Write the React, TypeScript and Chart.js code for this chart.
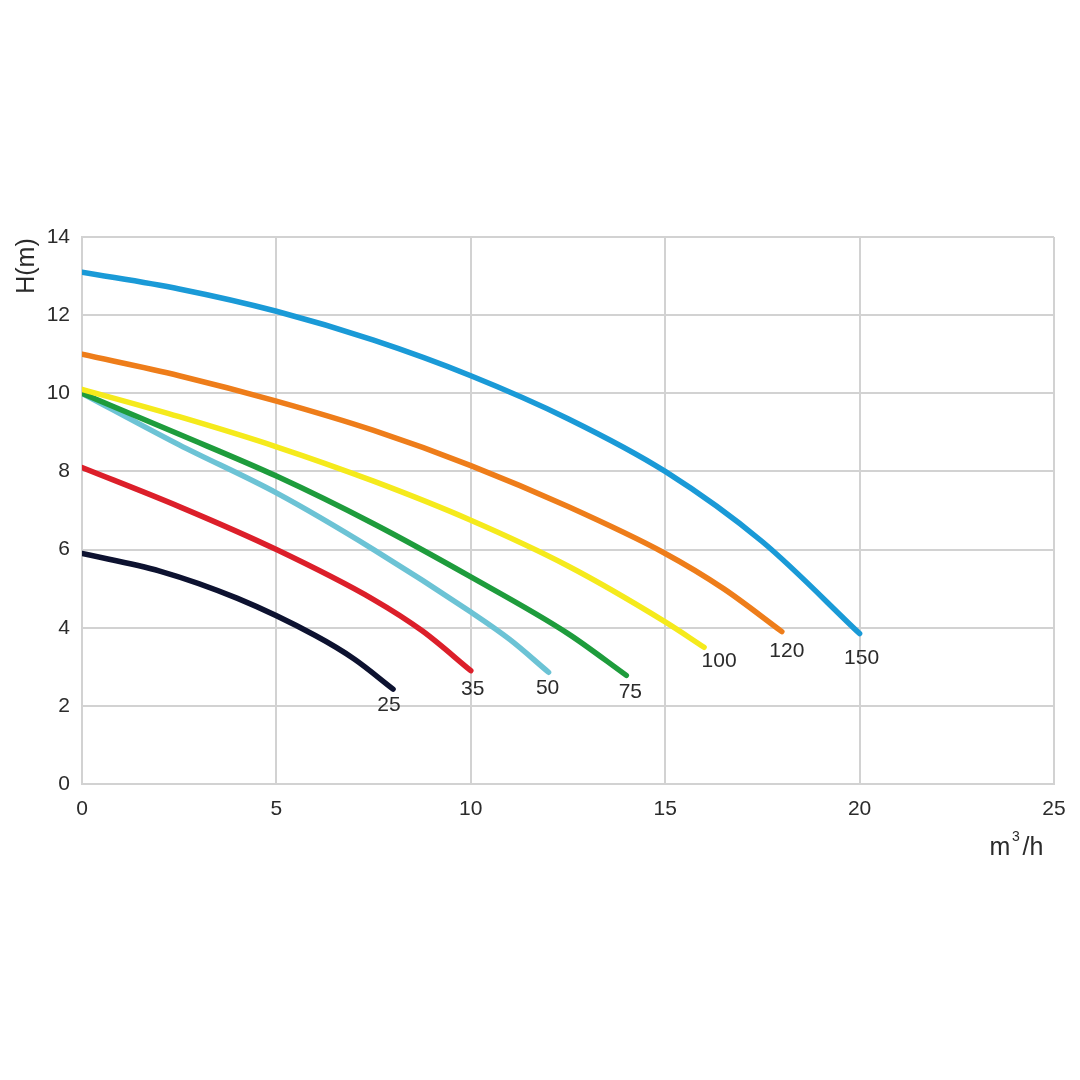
import React, { useEffect, useRef } from "react";
import { Chart, registerables } from "chart.js";

Chart.register(...registerables);

const seriesNames = ["150", "120", "100", "75", "50", "35", "25"];

const flow150 = [0, 2.5, 5, 7.5, 10, 12.5, 15, 17.5, 20];
const head150 = [13.1, 12.67, 12.1, 11.36, 10.45, 9.35, 8.0, 6.2, 3.85];

const flow120 = [0, 2.5, 5, 7.5, 10, 12.5, 15, 16.5, 18];
const head120 = [11.0, 10.45, 9.8, 9.05, 8.15, 7.1, 5.9, 5.0, 3.9];

const flow100 = [0, 2.5, 5, 7.5, 10, 12.5, 15, 16];
const head100 = [10.1, 9.4, 8.63, 7.75, 6.75, 5.58, 4.15, 3.5];

const flow75 = [0, 2.5, 5, 7.5, 10, 12.5, 14];
const head75 = [10.0, 8.95, 7.88, 6.66, 5.3, 3.85, 2.78];

const flow50 = [0, 2.5, 5, 7.5, 10, 11, 12];
const head50 = [10.0, 8.68, 7.45, 6.0, 4.4, 3.7, 2.86];

const flow35 = [0, 2.5, 5, 7.5, 8.75, 10];
const head35 = [8.1, 7.1, 6.0, 4.72, 3.92, 2.9];

const flow25 = [0, 2, 4, 6, 7, 8];
const head25 = [5.9, 5.45, 4.75, 3.8, 3.2, 2.43];

const xTicks = [0, 5, 10, 15, 20, 25];
const yTicks = [0, 2, 4, 6, 8, 10, 12, 14];

const flows = [flow150, flow120, flow100, flow75, flow50, flow35, flow25];
const heads = [head150, head120, head100, head75, head50, head35, head25];
const colors = ["#1a9ad7", "#ee7d1a", "#f5ea1c", "#1e9c3c", "#6cc3d5", "#dc1f2a", "#0d1230"];
const labelOffsets: [number, number][] = [
  [2, 25],
  [5, 20],
  [15, 14],
  [4, 17],
  [-1, 16],
  [2, 19],
  [-4, 16],
];

const FONT = "'Liberation Sans', Arial, sans-serif";
const TEXT = "#2b2b2b";

const endLabels = {
  id: "endLabels",
  afterDatasetsDraw(chart: any) {
    const ctx = chart.ctx;
    ctx.save();
    ctx.font = `21px ${FONT}`;
    ctx.fillStyle = TEXT;
    ctx.textAlign = "center";
    ctx.textBaseline = "middle";
    chart.data.datasets.forEach((ds: any, i: number) => {
      const meta = chart.getDatasetMeta(i);
      const pt = meta.data[meta.data.length - 1];
      if (!pt) return;
      const [dx, dy] = labelOffsets[i];
      ctx.fillText(seriesNames[i], pt.x + dx, pt.y + dy);
    });
    // axis titles
    ctx.font = `25px ${FONT}`;
    ctx.fillText("m", 1000, 848);
    ctx.font = `14px ${FONT}`;
    ctx.fillText("3", 1016, 837);
    ctx.font = `25px ${FONT}`;
    ctx.fillText("/h", 1033, 848);
    ctx.translate(27, 266);
    ctx.rotate(-Math.PI / 2);
    ctx.fillText("H(m)", 0, 0);
    ctx.restore();
  },
};

export default function App() {
  const ref = useRef<HTMLCanvasElement | null>(null);
  useEffect(() => {
    if (!ref.current) return;
    const chart = new Chart(ref.current, {
      type: "line",
      data: {
        datasets: seriesNames.map((name, i) => ({
          label: name,
          data: flows[i].map((x, j) => ({ x, y: heads[i][j] })),
          borderColor: colors[i],
          backgroundColor: colors[i],
          borderWidth: 5.5,
          pointRadius: 0,
          fill: false,
          cubicInterpolationMode: "monotone" as const,
          borderCapStyle: "round" as const,
        })),
      },
      options: {
        animation: false,
        responsive: false,
        layout: { padding: { top: 237, right: 26, left: 0, bottom: 0 } },
        plugins: { legend: { display: false }, tooltip: { enabled: false } },
        scales: {
          x: {
            type: "linear",
            min: 0,
            max: 25,
            afterFit: (s: any) => {
              s.height = 296;
            },
            afterBuildTicks: (s: any) => {
              s.ticks = xTicks.map((v) => ({ value: v }));
            },
            grid: { color: "#d2d2d2", lineWidth: 2, drawTicks: false },
            border: { color: "#d2d2d2", width: 2 },
            ticks: {
              padding: 13,
              color: TEXT,
              font: { family: FONT, size: 21 },
              maxRotation: 0,
            },
          },
          y: {
            type: "linear",
            min: 0,
            max: 14,
            afterFit: (s: any) => {
              s.width = 82;
            },
            afterBuildTicks: (s: any) => {
              s.ticks = yTicks.map((v) => ({ value: v }));
            },
            grid: { color: "#d2d2d2", lineWidth: 2, drawTicks: false },
            border: { color: "#d2d2d2", width: 2 },
            ticks: {
              padding: 12,
              color: TEXT,
              font: { family: FONT, size: 21 },
            },
          },
        },
      },
      plugins: [endLabels],
    });
    return () => chart.destroy();
  }, []);
  return (
    <div style={{ position: "fixed", left: 0, top: 0, width: 1080, height: 1080, background: "#fff" }}>
      <canvas ref={ref} width={1080} height={1080} style={{ width: 1080, height: 1080 }} />
    </div>
  );
}
